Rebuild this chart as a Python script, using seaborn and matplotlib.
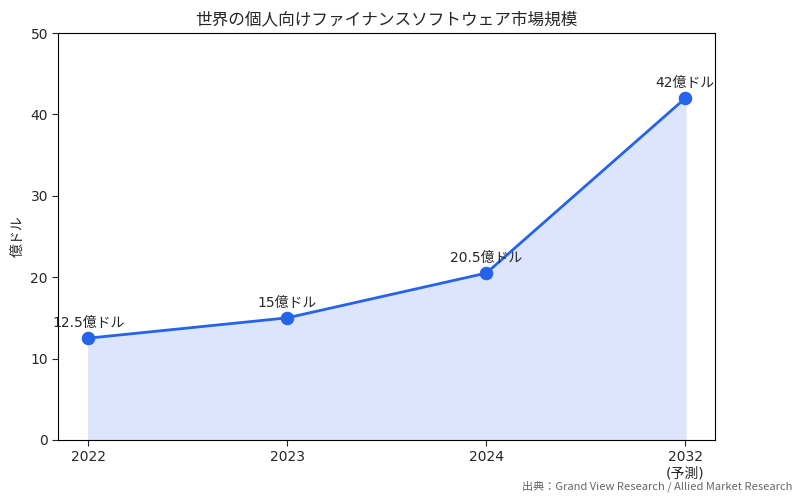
import matplotlib
matplotlib.use("Agg")
import matplotlib.pyplot as plt
import seaborn as sns
import pandas as pd

years = ["2022", "2023", "2024", "2032\n(予測)"]
values = [12.5, 15, 20.5, 42]
labels = ["12.5億ドル", "15億ドル", "20.5億ドル", "42億ドル"]

sns.set_style("white")
plt.rcParams['font.family'] = ['DejaVu Sans', 'Noto Sans CJK JP']

fig, ax = plt.subplots(figsize=(8, 5.01), dpi=100)
fig.subplots_adjust(left=0.073, right=0.894, top=0.934, bottom=0.122)
df = pd.DataFrame({"x": range(len(years)), "v": values})
ax.fill_between(df["x"], 0, df["v"], color="#dde5fc", alpha=1, zorder=1)
sns.lineplot(data=df, x="x", y="v", ax=ax, color="#2563eb", linewidth=2,
             marker="o", markersize=9, markeredgecolor="#2563eb", zorder=3)
for x, v, t in zip(df["x"], values, labels):
    ax.annotate(t, (x, v), xytext=(0, 6), textcoords="offset points",
                ha="center", va="bottom", fontsize=10)
ax.set_xticks(range(len(years)))
ax.set_xticklabels(years, fontsize=10)
ax.set_ylim(0, 50)
ax.set_xlim(-0.15, 3.15)
ax.set_xlabel("")
ax.set_ylabel("億ドル", fontsize=10)
ax.set_title("世界の個人向けファイナンスソフトウェア市場規模", fontsize=12)
ax.tick_params(axis="both", length=4, labelsize=10, left=True, bottom=True)
for s in ax.spines.values():
    s.set_color("black"); s.set_linewidth(0.8)
fig.text(0.99, 0.018, "出典：Grand View Research / Allied Market Research",
         ha="right", va="bottom", fontsize=8, color="#666666",
         family=['Noto Sans CJK JP', 'DejaVu Sans'])
fig.savefig("out.png", dpi=100)
